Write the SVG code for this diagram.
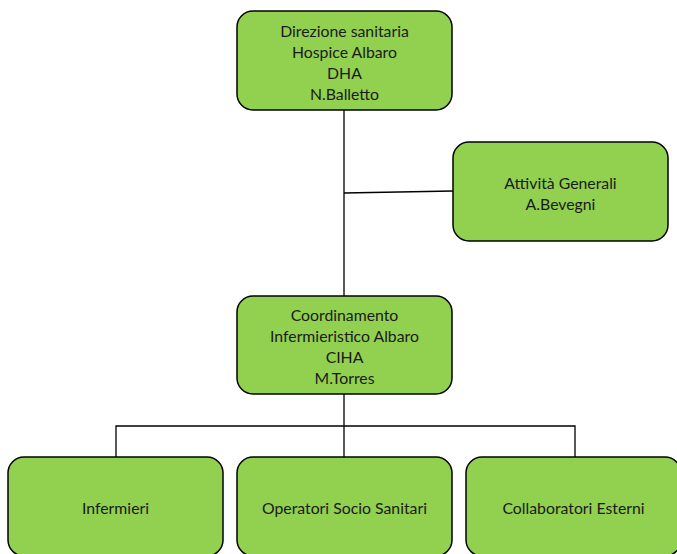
<svg xmlns="http://www.w3.org/2000/svg" width="677" height="554" viewBox="0 0 677 554">
<style>
.box{fill:#92D050;stroke:#000;stroke-width:1.5}
.t{font-family:Lato,"Open Sans",sans-serif;font-size:15.8px;fill:#1a1a1a;text-anchor:middle;dominant-baseline:central}
.c{fill:none;stroke:#000;stroke-width:1.3}
</style>
<rect width="677" height="554" fill="#fff"/>
<g id="connectors">
<path class="c" d="M344 110V296"/>
<path class="c" d="M344 193L453 191"/>
<path class="c" d="M344 394V457"/>
<path class="c" d="M116 457V426H575V457"/>
</g>
<g id="n1">
<rect class="box" x="237" y="11" width="215" height="99" rx="16"/>
<text class="t" x="344.5" y="30">Direzione sanitaria</text>
<text class="t" x="344.5" y="51">Hospice Albaro</text>
<text class="t" x="344.5" y="72">DHA</text>
<text class="t" x="344.5" y="93">N.Balletto</text>
</g>
<g id="n2">
<rect class="box" x="453" y="142" width="215" height="99" rx="16"/>
<text class="t" x="560.5" y="182">Attività Generali</text>
<text class="t" x="560.5" y="203">A.Bevegni</text>
</g>
<g id="n3">
<rect class="box" x="237" y="296" width="215" height="98" rx="16"/>
<text class="t" x="344.5" y="314">Coordinamento</text>
<text class="t" x="344.5" y="335">Infermieristico Albaro</text>
<text class="t" x="344.5" y="356">CIHA</text>
<text class="t" x="344.5" y="377">M.Torres</text>
</g>
<g id="n4">
<rect class="box" x="8" y="457" width="215" height="99" rx="16"/>
<text class="t" x="115.5" y="507">Infermieri</text>
</g>
<g id="n5">
<rect class="box" x="237" y="457" width="215" height="99" rx="16"/>
<text class="t" x="344.5" y="507">Operatori Socio Sanitari</text>
</g>
<g id="n6">
<rect class="box" x="466" y="457" width="215" height="99" rx="16"/>
<text class="t" x="573.5" y="507">Collaboratori Esterni</text>
</g>
</svg>
